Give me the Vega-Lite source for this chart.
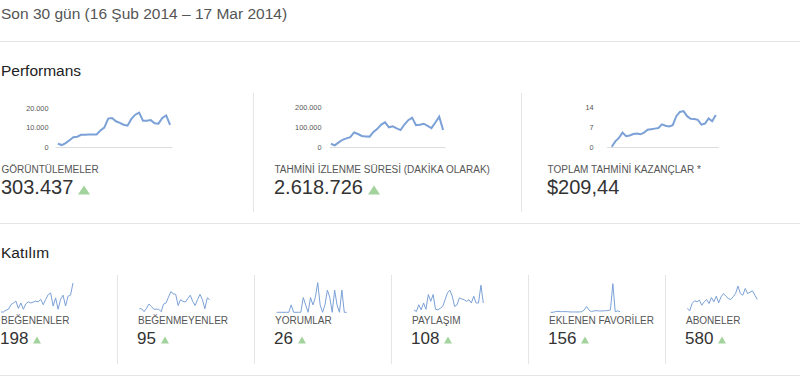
{
  "$schema": "https://vega.github.io/schema/vega-lite/v6.json",
  "width": 800,
  "height": 383,
  "padding": 0,
  "autosize": {"type": "none"},
  "background": "#ffffff",
  "config": {
    "view": {"stroke": null},
    "font": "Liberation Sans",
    "locale": {"number": {"decimal": ",", "thousands": ".", "grouping": [3], "currency": ["$", ""]}}
  },
  "datasets": {
    "period": [{"period": "Son 30 gün (16 Şub 2014 – 17 Mar 2014)"}],
    "sections": [{"section": "Performans"}, {"section": "Katılım"}],
    "cards": [
      {"section": "Performans", "col": 0, "label": "GÖRÜNTÜLEMELER", "value": "303.437", "trend": "up"},
      {"section": "Performans", "col": 1, "label": "TAHMİNİ İZLENME SÜRESİ (DAKİKA OLARAK)", "value": "2.618.726", "trend": "up"},
      {"section": "Performans", "col": 2, "label": "TOPLAM TAHMİNİ KAZANÇLAR *", "value": "$209,44", "trend": null},
      {"section": "Katılım", "col": 0, "label": "BEĞENENLER", "value": "198", "trend": "up"},
      {"section": "Katılım", "col": 1, "label": "BEĞENMEYENLER", "value": "95", "trend": "up"},
      {"section": "Katılım", "col": 2, "label": "YORUMLAR", "value": "26", "trend": "up"},
      {"section": "Katılım", "col": 3, "label": "PAYLAŞIM", "value": "108", "trend": "up"},
      {"section": "Katılım", "col": 4, "label": "EKLENEN FAVORİLER", "value": "156", "trend": "up"},
      {"section": "Katılım", "col": 5, "label": "ABONELER", "value": "580", "trend": "up"}
    ],
    "views": [
      {"day":1,"value":1700},{"day":2,"value":1000},{"day":3,"value":2000},{"day":4,"value":3500},{"day":5,"value":5000},
      {"day":6,"value":5300},{"day":7,"value":6300},{"day":8,"value":6300},{"day":9,"value":6400},{"day":10,"value":6500},
      {"day":11,"value":6500},{"day":12,"value":8500},{"day":13,"value":10000},{"day":14,"value":14700},{"day":15,"value":15000},
      {"day":16,"value":13300},{"day":17,"value":12500},{"day":18,"value":11500},{"day":19,"value":11000},{"day":20,"value":14500},
      {"day":21,"value":16700},{"day":22,"value":17800},{"day":23,"value":13600},{"day":24,"value":13600},{"day":25,"value":13900},
      {"day":26,"value":12300},{"day":27,"value":12100},{"day":28,"value":15000},{"day":29,"value":16300},{"day":30,"value":11400}
    ],
    "watch": [
      {"day":1,"value":18000},{"day":2,"value":10000},{"day":3,"value":25000},{"day":4,"value":38000},{"day":5,"value":45000},
      {"day":6,"value":51000},{"day":7,"value":75000},{"day":8,"value":67000},{"day":9,"value":57000},{"day":10,"value":55000},
      {"day":11,"value":54000},{"day":12,"value":78000},{"day":13,"value":93000},{"day":14,"value":115000},{"day":15,"value":126000},
      {"day":16,"value":101000},{"day":17,"value":106000},{"day":18,"value":96000},{"day":19,"value":87000},{"day":20,"value":115000},
      {"day":21,"value":137000},{"day":22,"value":150000},{"day":23,"value":112000},{"day":24,"value":114000},{"day":25,"value":119000},
      {"day":26,"value":108000},{"day":27,"value":97000},{"day":28,"value":125000},{"day":29,"value":155000},{"day":30,"value":87000}
    ],
    "earnings": [
      {"day":1,"value":0.2},{"day":2,"value":2.1},{"day":3,"value":3.3},{"day":4,"value":5.2},{"day":5,"value":3.9},
      {"day":6,"value":4.2},{"day":7,"value":4.7},{"day":8,"value":4.9},{"day":9,"value":4.6},{"day":10,"value":5.2},
      {"day":11,"value":6.2},{"day":12,"value":6.4},{"day":13,"value":6.6},{"day":14,"value":6.8},{"day":15,"value":8.1},
      {"day":16,"value":7.6},{"day":17,"value":7.4},{"day":18,"value":7.8},{"day":19,"value":11.0},{"day":20,"value":12.5},
      {"day":21,"value":12.8},{"day":22,"value":11.0},{"day":23,"value":10.1},{"day":24,"value":10.0},{"day":25,"value":9.7},
      {"day":26,"value":8.0},{"day":27,"value":8.4},{"day":28,"value":10.2},{"day":29,"value":9.2},{"day":30,"value":11.4}
    ],
    "likes": [
      {"day":1,"value":0},{"day":2,"value":0},{"day":3,"value":1},{"day":4,"value":1.5},{"day":5,"value":4},
      {"day":6,"value":5},{"day":7,"value":6},{"day":8,"value":2},{"day":9,"value":5},{"day":10,"value":1.5},
      {"day":11,"value":4.5},{"day":12,"value":5.6},{"day":13,"value":5},{"day":14,"value":5.5},{"day":15,"value":6},
      {"day":16,"value":5.6},{"day":17,"value":7},{"day":18,"value":4},{"day":19,"value":7},{"day":20,"value":9.6},
      {"day":21,"value":10.5},{"day":22,"value":3.3},{"day":23,"value":7.8},{"day":24,"value":1.5},{"day":25,"value":7},
      {"day":26,"value":9.3},{"day":27,"value":3.3},{"day":28,"value":8.7},{"day":29,"value":9.3},{"day":30,"value":16}
    ],
    "dislikes": [
      {"day":1,"value":1.7},{"day":2,"value":1.7},{"day":3,"value":0.3},{"day":4,"value":2},{"day":5,"value":4},
      {"day":6,"value":2.8},{"day":7,"value":1.5},{"day":8,"value":1.5},{"day":9,"value":1.5},{"day":10,"value":0.3},
      {"day":11,"value":4},{"day":12,"value":4.5},{"day":13,"value":7.3},{"day":14,"value":10},{"day":15,"value":9},
      {"day":16,"value":8.7},{"day":17,"value":3.3},{"day":18,"value":6.2},{"day":19,"value":5.3},{"day":20,"value":5},
      {"day":21,"value":6.7},{"day":22,"value":8.3},{"day":23,"value":5.3},{"day":24,"value":3.3},{"day":25,"value":6.2},
      {"day":26,"value":8.7},{"day":27,"value":6.2},{"day":28,"value":1.7},{"day":29,"value":7},{"day":30,"value":6.2}
    ],
    "comments": [
      {"day":1,"value":0},{"day":2,"value":0},{"day":3,"value":0},{"day":4,"value":0},{"day":5,"value":0},
      {"day":6,"value":0},{"day":7,"value":1},{"day":8,"value":0},{"day":9,"value":0},{"day":10,"value":0},
      {"day":11,"value":0},{"day":12,"value":2},{"day":13,"value":1},{"day":14,"value":0},{"day":15,"value":2},
      {"day":16,"value":1},{"day":17,"value":2},{"day":18,"value":4},{"day":19,"value":1},{"day":20,"value":0},
      {"day":21,"value":1},{"day":22,"value":3},{"day":23,"value":2},{"day":24,"value":0},{"day":25,"value":3},
      {"day":26,"value":1},{"day":27,"value":0},{"day":28,"value":3},{"day":29,"value":0},{"day":30,"value":0}
    ],
    "shares": [
      {"day":1,"value":0.9},{"day":2,"value":0.25},{"day":3,"value":2.75},{"day":4,"value":0.9},{"day":5,"value":3.4},
      {"day":6,"value":1.1},{"day":7,"value":6.5},{"day":8,"value":4},{"day":9,"value":6.5},{"day":10,"value":1.1},
      {"day":11,"value":0.9},{"day":12,"value":1.5},{"day":13,"value":2.1},{"day":14,"value":4.6},{"day":15,"value":7.1},
      {"day":16,"value":8.1},{"day":17,"value":5.9},{"day":18,"value":2.1},{"day":19,"value":2.75},{"day":20,"value":5.25},
      {"day":21,"value":4.9},{"day":22,"value":4.6},{"day":23,"value":4},{"day":24,"value":4.6},{"day":25,"value":3.4},
      {"day":26,"value":5.9},{"day":27,"value":3.4},{"day":28,"value":3.4},{"day":29,"value":9.9},{"day":30,"value":3.4}
    ],
    "favorites": [
      {"day":1,"value":0},{"day":2,"value":0},{"day":3,"value":2},{"day":4,"value":3},{"day":5,"value":2},
      {"day":6,"value":2},{"day":7,"value":2},{"day":8,"value":2},{"day":9,"value":1},{"day":10,"value":1},
      {"day":11,"value":1},{"day":12,"value":1},{"day":13,"value":1},{"day":14,"value":2},{"day":15,"value":7},
      {"day":16,"value":17},{"day":17,"value":7},{"day":18,"value":2},{"day":19,"value":4},{"day":20,"value":5},
      {"day":21,"value":4},{"day":22,"value":4},{"day":23,"value":4},{"day":24,"value":5},{"day":25,"value":5},
      {"day":26,"value":7},{"day":27,"value":85},{"day":28,"value":2},{"day":29,"value":4},{"day":30,"value":2}
    ],
    "subscribers": [
      {"day":1,"value":5},{"day":2,"value":2.7},{"day":3,"value":10},{"day":4,"value":12.7},{"day":5,"value":11.7},
      {"day":6,"value":13.3},{"day":7,"value":8.3},{"day":8,"value":11.7},{"day":9,"value":14},{"day":10,"value":10},
      {"day":11,"value":16},{"day":12,"value":11.7},{"day":13,"value":17.3},{"day":14,"value":10.7},{"day":15,"value":16.7},
      {"day":16,"value":20},{"day":17,"value":17.3},{"day":18,"value":15},{"day":19,"value":14},{"day":20,"value":16.7},
      {"day":21,"value":20},{"day":22,"value":27.3},{"day":23,"value":20},{"day":24,"value":18.3},{"day":25,"value":25},
      {"day":26,"value":20},{"day":27,"value":21.3},{"day":28,"value":22.7},{"day":29,"value":18.3},{"day":30,"value":14}
    ]
  },
  "resolve": {"scale": {"x": "independent", "y": "independent"}},
  "layer": [
    {
      "data": {"name": "period"},
      "mark": {"type": "text", "align": "left", "baseline": "alphabetic", "fontSize": 15.5, "color": "#555555", "font": "Liberation Sans"},
      "encoding": {
        "text": {"field": "period"},
        "x": {"field": "period", "type": "nominal", "scale": {"type": "point", "range": [1, 1], "padding": 0}, "axis": null},
        "y": {"field": "period", "type": "nominal", "scale": {"type": "point", "range": [18.5, 18.5], "padding": 0}, "axis": null}
      }
    },
    {
      "data": {"name": "sections"},
      "mark": {"type": "rule", "color": "#e5e5e5", "strokeWidth": 1},
      "encoding": {
        "y": {"field": "section", "type": "nominal", "scale": {"type": "point", "domain": ["Performans", "Katılım"], "range": [41.5, 223.5], "padding": 0}, "axis": null}
      }
    },
    {
      "data": {"name": "sections"},
      "transform": [{"filter": "datum.section === 'Katılım'"}],
      "mark": {"type": "rule", "color": "#e5e5e5", "strokeWidth": 1},
      "encoding": {
        "y": {"field": "section", "type": "nominal", "scale": {"type": "point", "domain": ["Katılım"], "range": [375.5, 375.5], "padding": 0}, "axis": null}
      }
    },
    {
      "data": {"name": "sections"},
      "mark": {"type": "text", "align": "left", "baseline": "alphabetic", "fontSize": 15.5, "color": "#222222", "font": "Liberation Sans"},
      "encoding": {
        "text": {"field": "section"},
        "x": {"field": "section", "type": "nominal", "scale": {"type": "point", "domain": ["Performans", "Katılım"], "range": [1, 1], "padding": 0}, "axis": null},
        "y": {"field": "section", "type": "nominal", "scale": {"type": "point", "domain": ["Performans", "Katılım"], "range": [75.7, 258.3], "padding": 0}, "axis": null}
      }
    },
    {
      "data": {"name": "cards"},
      "transform": [{"filter": "datum.section === 'Performans' && datum.col < 2"}],
      "mark": {"type": "rule", "color": "#e5e5e5", "strokeWidth": 1},
      "encoding": {
        "x": {"field": "col", "type": "quantitative", "scale": {"domain": [0, 1], "range": [253.5, 521.5], "nice": false, "zero": false}, "axis": null},
        "y": {"datum": 0, "type": "quantitative", "scale": {"domain": [0, 1], "range": [93, 212], "nice": false}, "axis": null},
        "y2": {"datum": 1}
      }
    },
    {
      "data": {"name": "cards"},
      "transform": [{"filter": "datum.section === 'Katılım' && datum.col < 5"}],
      "mark": {"type": "rule", "color": "#e5e5e5", "strokeWidth": 1},
      "encoding": {
        "x": {"field": "col", "type": "quantitative", "scale": {"domain": [0, 4], "range": [117.5, 665.5], "nice": false, "zero": false}, "axis": null},
        "y": {"datum": 0, "type": "quantitative", "scale": {"domain": [0, 1], "range": [275, 364], "nice": false}, "axis": null},
        "y2": {"datum": 1}
      }
    },
    {
      "data": {"name": "cards"},
      "transform": [{"filter": "datum.section === 'Performans'"}],
      "mark": {"type": "text", "align": "left", "baseline": "alphabetic", "fontSize": 10, "color": "#555555", "font": "Liberation Sans"},
      "encoding": {
        "text": {"field": "label"},
        "x": {"field": "col", "type": "quantitative", "scale": {"domain": [0, 2], "range": [1.5, 547.5], "nice": false, "zero": false}, "axis": null},
        "y": {"field": "section", "type": "nominal", "scale": {"type": "point", "domain": ["Performans"], "range": [172.5, 172.5], "padding": 0}, "axis": null}
      }
    },
    {
      "data": {"name": "cards"},
      "transform": [{"filter": "datum.section === 'Performans'"}],
      "mark": {"type": "text", "align": "left", "baseline": "alphabetic", "fontSize": 20, "color": "#333333", "font": "Liberation Sans"},
      "encoding": {
        "text": {"field": "value"},
        "x": {"field": "col", "type": "quantitative", "scale": {"domain": [0, 2], "range": [1, 547], "nice": false, "zero": false}, "axis": null},
        "y": {"field": "section", "type": "nominal", "scale": {"type": "point", "domain": ["Performans"], "range": [194, 194], "padding": 0}, "axis": null}
      }
    },
    {
      "data": {"name": "cards"},
      "transform": [{"filter": "datum.section === 'Performans' && datum.trend === 'up' && length(datum.value) === 7"}],
      "mark": {"type": "point", "shape": "M-1,0.75L1,0.75L0,-0.75Z", "size": 144, "filled": true, "color": "#a3d39c", "opacity": 1, "strokeWidth": 0, "xOffset": 83},
      "encoding": {
        "x": {"field": "col", "type": "quantitative", "scale": {"domain": [0, 2], "range": [1, 547], "nice": false, "zero": false}, "axis": null},
        "y": {"field": "section", "type": "nominal", "scale": {"type": "point", "domain": ["Performans"], "range": [190, 190], "padding": 0}, "axis": null}
      }
    },
    {
      "data": {"name": "cards"},
      "transform": [{"filter": "datum.section === 'Performans' && datum.trend === 'up' && length(datum.value) === 9"}],
      "mark": {"type": "point", "shape": "M-1,0.75L1,0.75L0,-0.75Z", "size": 144, "filled": true, "color": "#a3d39c", "opacity": 1, "strokeWidth": 0, "xOffset": 100},
      "encoding": {
        "x": {"field": "col", "type": "quantitative", "scale": {"domain": [0, 2], "range": [1, 547], "nice": false, "zero": false}, "axis": null},
        "y": {"field": "section", "type": "nominal", "scale": {"type": "point", "domain": ["Performans"], "range": [190, 190], "padding": 0}, "axis": null}
      }
    },
    {
      "data": {"name": "cards"},
      "transform": [{"filter": "datum.section === 'Katılım'"}],
      "mark": {"type": "text", "align": "left", "baseline": "alphabetic", "fontSize": 10, "color": "#555555", "font": "Liberation Sans"},
      "encoding": {
        "text": {"field": "label"},
        "x": {"field": "col", "type": "quantitative", "scale": {"domain": [0, 5], "range": [1, 686], "nice": false, "zero": false}, "axis": null},
        "y": {"field": "section", "type": "nominal", "scale": {"type": "point", "domain": ["Katılım"], "range": [324, 324], "padding": 0}, "axis": null}
      }
    },
    {
      "data": {"name": "cards"},
      "transform": [{"filter": "datum.section === 'Katılım'"}],
      "mark": {"type": "text", "align": "left", "baseline": "alphabetic", "fontSize": 17, "color": "#333333", "font": "Liberation Sans"},
      "encoding": {
        "text": {"field": "value"},
        "x": {"field": "col", "type": "quantitative", "scale": {"domain": [0, 5], "range": [0, 685], "nice": false, "zero": false}, "axis": null},
        "y": {"field": "section", "type": "nominal", "scale": {"type": "point", "domain": ["Katılım"], "range": [344, 344], "padding": 0}, "axis": null}
      }
    },
    {
      "data": {"name": "cards"},
      "transform": [{"filter": "datum.section === 'Katılım' && datum.trend === 'up' && length(datum.value) === 3"}],
      "mark": {"type": "point", "shape": "M-1,0.875L1,0.875L0,-0.875Z", "size": 64, "filled": true, "color": "#a3d39c", "opacity": 1, "strokeWidth": 0, "xOffset": 37},
      "encoding": {
        "x": {"field": "col", "type": "quantitative", "scale": {"domain": [0, 5], "range": [0, 685], "nice": false, "zero": false}, "axis": null},
        "y": {"field": "section", "type": "nominal", "scale": {"type": "point", "domain": ["Katılım"], "range": [340, 340], "padding": 0}, "axis": null}
      }
    },
    {
      "data": {"name": "cards"},
      "transform": [{"filter": "datum.section === 'Katılım' && datum.trend === 'up' && length(datum.value) === 2"}],
      "mark": {"type": "point", "shape": "M-1,0.875L1,0.875L0,-0.875Z", "size": 64, "filled": true, "color": "#a3d39c", "opacity": 1, "strokeWidth": 0, "xOffset": 28},
      "encoding": {
        "x": {"field": "col", "type": "quantitative", "scale": {"domain": [0, 5], "range": [0, 685], "nice": false, "zero": false}, "axis": null},
        "y": {"field": "section", "type": "nominal", "scale": {"type": "point", "domain": ["Katılım"], "range": [340, 340], "padding": 0}, "axis": null}
      }
    },
    {
      "data": {"name": "views"},
      "mark": {"type": "line", "color": "#7ba1d7", "strokeWidth": 2},
      "encoding": {
        "x": {"field": "day", "type": "quantitative", "scale": {"domain": [0.25, 30.5], "range": [55, 172], "nice": false, "zero": false},
              "axis": {"orient": "bottom", "offset": -236, "domain": true, "domainColor": "#dddddd", "domainWidth": 1, "ticks": false, "labels": false, "grid": false, "title": null}},
        "y": {"field": "value", "type": "quantitative", "scale": {"domain": [0, 20000], "range": [147, 108.3], "nice": false},
              "axis": {"orient": "left", "offset": -55, "values": [0, 10000, 20000], "format": ",d", "domain": false, "ticks": false, "grid": false, "title": null, "labelFontSize": 7.3, "labelColor": "#555555", "labelPadding": 7, "labelFont": "Liberation Sans"}}
      }
    },
    {
      "data": {"name": "watch"},
      "mark": {"type": "line", "color": "#7ba1d7", "strokeWidth": 2},
      "encoding": {
        "x": {"field": "day", "type": "quantitative", "scale": {"domain": [0.5, 30.5], "range": [329, 445], "nice": false, "zero": false},
              "axis": {"orient": "bottom", "offset": -236, "domain": true, "domainColor": "#dddddd", "domainWidth": 1, "ticks": false, "labels": false, "grid": false, "title": null}},
        "y": {"field": "value", "type": "quantitative", "scale": {"domain": [0, 200000], "range": [147.3, 107.7], "nice": false},
              "axis": {"orient": "left", "offset": -328, "values": [0, 100000, 200000], "format": ",d", "domain": false, "ticks": false, "grid": false, "title": null, "labelFontSize": 7.3, "labelColor": "#555555", "labelPadding": 7, "labelFont": "Liberation Sans"}}
      }
    },
    {
      "data": {"name": "earnings"},
      "mark": {"type": "line", "color": "#7ba1d7", "strokeWidth": 2},
      "encoding": {
        "x": {"field": "day", "type": "quantitative", "scale": {"domain": [-0.4, 30.7], "range": [606.7, 718.3], "nice": false, "zero": false},
              "axis": {"orient": "bottom", "offset": -236, "domain": true, "domainColor": "#dddddd", "domainWidth": 1, "ticks": false, "labels": false, "grid": false, "title": null}},
        "y": {"field": "value", "type": "quantitative", "scale": {"domain": [0, 14], "range": [147.3, 107.7], "nice": false},
              "axis": {"orient": "left", "offset": -600, "values": [0, 7, 14], "format": ",d", "domain": false, "ticks": false, "grid": false, "title": null, "labelFontSize": 7.3, "labelColor": "#555555", "labelPadding": 7, "labelFont": "Liberation Sans"}}
      }
    },
    {
      "data": {"name": "likes"},
      "mark": {"type": "line", "color": "#7ba1d7", "strokeWidth": 1},
      "encoding": {
        "x": {"field": "day", "type": "quantitative", "scale": {"domain": [1, 30], "range": [1, 73], "nice": false, "zero": false}, "axis": null},
        "y": {"field": "value", "type": "quantitative", "scale": {"domain": [0, 16], "range": [312, 283], "nice": false}, "axis": null}
      }
    },
    {
      "data": {"name": "dislikes"},
      "mark": {"type": "line", "color": "#7ba1d7", "strokeWidth": 1},
      "encoding": {
        "x": {"field": "day", "type": "quantitative", "scale": {"domain": [1, 30], "range": [139.3, 209.7], "nice": false, "zero": false}, "axis": null},
        "y": {"field": "value", "type": "quantitative", "scale": {"domain": [0, 14.1], "range": [312.3, 283.3], "nice": false}, "axis": null}
      }
    },
    {
      "data": {"name": "comments"},
      "mark": {"type": "line", "color": "#7ba1d7", "strokeWidth": 1},
      "encoding": {
        "x": {"field": "day", "type": "quantitative", "scale": {"domain": [1, 30], "range": [276.7, 346.7], "nice": false, "zero": false}, "axis": null},
        "y": {"field": "value", "type": "quantitative", "scale": {"domain": [0, 4], "range": [312.3, 282.7], "nice": false}, "axis": null}
      }
    },
    {
      "data": {"name": "shares"},
      "mark": {"type": "line", "color": "#7ba1d7", "strokeWidth": 1},
      "encoding": {
        "x": {"field": "day", "type": "quantitative", "scale": {"domain": [1, 30], "range": [414, 483.3], "nice": false, "zero": false}, "axis": null},
        "y": {"field": "value", "type": "quantitative", "scale": {"domain": [0, 10.6], "range": [312.3, 283.3], "nice": false}, "axis": null}
      }
    },
    {
      "data": {"name": "favorites"},
      "mark": {"type": "line", "color": "#7ba1d7", "strokeWidth": 1},
      "encoding": {
        "x": {"field": "day", "type": "quantitative", "scale": {"domain": [1, 30], "range": [550.7, 620], "nice": false, "zero": false}, "axis": null},
        "y": {"field": "value", "type": "quantitative", "scale": {"domain": [0, 87], "range": [312.3, 283], "nice": false}, "axis": null}
      }
    },
    {
      "data": {"name": "subscribers"},
      "mark": {"type": "line", "color": "#7ba1d7", "strokeWidth": 1},
      "encoding": {
        "x": {"field": "day", "type": "quantitative", "scale": {"domain": [1, 30], "range": [687.3, 757.3], "nice": false, "zero": false}, "axis": null},
        "y": {"field": "value", "type": "quantitative", "scale": {"domain": [1.5, 30.5], "range": [312, 283], "nice": false, "zero": false}, "axis": null}
      }
    }
  ]
}
